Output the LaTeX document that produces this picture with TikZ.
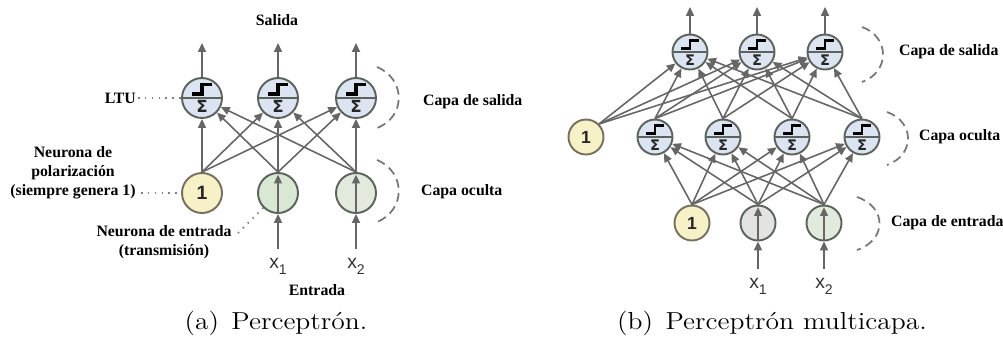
\documentclass[tikz,border=0pt]{standalone}
\usepackage{fontspec}
\newfontfamily\lblfont{Liberation Serif}
\newfontfamily\symfont{DejaVu Sans}
\newfontfamily\inpfont{Liberation Sans}
\usetikzlibrary{arrows.meta}

\definecolor{edgegray}{HTML}{666666}
\definecolor{ringgray}{HTML}{5C625C}
\definecolor{ltufill}{HTML}{DCE4F2}
\definecolor{biasfill}{HTML}{F7F1C8}
\definecolor{biasring}{HTML}{77705E}
\definecolor{greenfill}{HTML}{D9E8D2}
\definecolor{greenpale}{HTML}{E2EADD}
\definecolor{grayfill}{HTML}{E3E4E1}
\definecolor{bracegray}{HTML}{777777}

\tikzset{
  neuron/.style={circle, draw=ringgray, line width=1.1pt, inner sep=0pt},
  % threshold logic unit: step function over a summation sign
  ltu/.style 2 args={neuron, fill=ltufill, minimum size=2*#1 cm,
    path picture={
      \begin{scope}[shift={(path picture bounding box.center)}, x=#1 cm, y=#1 cm]
        \draw[ringgray, line width=0.9pt] (-1,0) -- (1,0);
        \draw[black, line width=#1*4.6pt] (-0.5,0.2) -- (0,0.2) -- (0,0.68) -- (0.5,0.68);
        \node[inner sep=0pt, text=black!85] at (0,-0.44) {\fontsize{#2}{#2}\symfont\bfseries Σ};
      \end{scope}}},
  bias/.style={neuron, draw=biasring, fill=biasfill, font=\inpfont\bfseries\fontsize{#1}{#1}\selectfont, text=black!85},
  inpA/.style={neuron, fill=#1},
  arr/.style={draw=edgegray, line width=0.9pt, -{Triangle[length=5pt,width=4.5pt]}},
  lbl/.style={font=\lblfont\bfseries\fontsize{9}{10.8}\selectfont, align=center, inner sep=1pt},
  xlbl/.style={font=\inpfont\fontsize{11}{13}\selectfont, text=black!80, inner sep=1pt},
  dots/.style={draw=gray, line width=1pt, dash pattern=on 0.9pt off 3pt},
  layerbrace/.style={draw=bracegray, line width=1pt, dash pattern=on 5pt off 3pt},
  capt/.style={font=\fontsize{14}{17}\selectfont, inner sep=0pt, xscale=1.12}
}

\begin{document}
\begin{tikzpicture}[x=0.02cm, y=-0.02cm]
\useasboundingbox (0,0) rectangle (1003,346);

% ---------------- (a) single-layer perceptron ----------------
\node[ltu={0.4}{9.5}] (ao1) at (202,98) {};
\node[ltu={0.4}{9.5}] (ao2) at (278,98) {};
\node[ltu={0.4}{9.5}] (ao3) at (356,98) {};
\node[bias=11, minimum size=0.8cm] (ab) at (202,193) {1};
\node[inpA=greenfill, minimum size=0.8cm] (ai1) at (278,193) {};
\node[inpA=greenpale, minimum size=0.8cm] (ai2) at (356,193) {};

% outputs
\coordinate (ay1) at (202,43);
\coordinate (ay2) at (278,43);
\coordinate (ay3) at (356,43);
\foreach \o in {1,2,3} \draw[arr] (ao\o.north) -- (ay\o);
\node[lbl] (salida) at (277,20) {Salida};

% full connections between the two rows
\foreach \b in {ab,ai1,ai2}
  \foreach \t in {ao1,ao2,ao3}
    \draw[arr] (\b.north) -- (\t);

% inputs
\node[xlbl] (ax1) at (278,266) {x\raisebox{-0.6ex}{\fontsize{8}{8}\selectfont 1}};
\node[xlbl] (ax2) at (356,266) {x\raisebox{-0.6ex}{\fontsize{8}{8}\selectfont 2}};
\coordinate (ax1t) at (278,249);
\coordinate (ax2t) at (356,249);
\draw[arr] (ax1t) -- (ai1.south);
\draw[arr] (ax2t) -- (ai2.south);
\draw[arr] (ai1.south) -- ([yshift=-1.5pt]ai1.north);
\draw[arr] (ai2.south) -- ([yshift=-1.5pt]ai2.north);
\node[lbl] (entrada) at (317,290) {Entrada};

% annotations
\node[lbl, anchor=east] (ltulbl) at (138,98) {LTU};
\draw[dots] (ltulbl.east) -- (ao1.west);
\node[lbl] (biaslbl) at (73,173) {Neurona de\\polarización\\(siempre genera 1)};
\coordinate (biasdot) at (141,193);
\draw[dots] (biasdot) -- (ab.west);
\node[lbl] (inlbl) at (164,242) {Neurona de entrada\\(transmisión)};
\coordinate (indot) at (238,233);
\draw[dots] (indot) -- (ai1.south west);

% layer braces
\draw[layerbrace] (377,67) .. controls (406,79) and (406,117) .. (377,128);
\draw[layerbrace] (377,160) .. controls (406,172) and (406,210) .. (377,222);
\node[lbl, anchor=west] (capaSa) at (421,102) {Capa de salida};
\node[lbl, anchor=west] (capaOa) at (419,192) {Capa oculta};

\node[capt] (capa) at (276,323) {(a)\hspace{0.45em}Perceptrón.};

% ---------------- (b) multilayer perceptron ----------------
\node[ltu={0.35}{8.3}] (bo1) at (690,52) {};
\node[ltu={0.35}{8.3}] (bo2) at (757,52) {};
\node[ltu={0.35}{8.3}] (bo3) at (825,52) {};
\node[ltu={0.35}{8.3}] (bh1) at (655,137) {};
\node[ltu={0.35}{8.3}] (bh2) at (723,137) {};
\node[ltu={0.35}{8.3}] (bh3) at (792,137) {};
\node[ltu={0.35}{8.3}] (bh4) at (862,137) {};
\node[bias=10, minimum size=0.7cm] (bb) at (586,137) {1};
\node[bias=10, minimum size=0.7cm] (bi0) at (692,223) {1};
\node[inpA=grayfill, minimum size=0.7cm] (bi1) at (758,223) {};
\node[inpA=greenpale, minimum size=0.7cm] (bi2) at (824,223) {};

% outputs
\coordinate (by1) at (690,7);
\coordinate (by2) at (757,7);
\coordinate (by3) at (825,7);
\foreach \o in {1,2,3} \draw[arr] (bo\o.north) -- (by\o);

% input layer -> hidden layer
\foreach \b in {bi0,bi1,bi2}
  \foreach \t in {bh1,bh2,bh3,bh4}
    \draw[arr] (\b.north) -- (\t);
% hidden layer (and its bias) -> output layer
\foreach \b in {bh1,bh2,bh3,bh4}
  \foreach \t in {bo1,bo2,bo3}
    \draw[arr] (\b.north) -- (\t);
\foreach \t in {bo1,bo2,bo3}
  \draw[arr] (bb.north east) -- (\t);

% inputs
\node[xlbl] (bx1) at (758,286) {x\raisebox{-0.6ex}{\fontsize{8}{8}\selectfont 1}};
\node[xlbl] (bx2) at (824,286) {x\raisebox{-0.6ex}{\fontsize{8}{8}\selectfont 2}};
\coordinate (bx1t) at (758,269);
\coordinate (bx2t) at (824,269);
\draw[arr] (bx1t) -- (bi1.south);
\draw[arr] (bx2t) -- (bi2.south);
\draw[arr] (bi1.south) -- ([yshift=-1.5pt]bi1.north);
\draw[arr] (bi2.south) -- ([yshift=-1.5pt]bi2.north);

% layer braces
\draw[layerbrace] (862,27) .. controls (890,37) and (890,72) .. (862,82);
\draw[layerbrace] (887,112) .. controls (915,122) and (915,155) .. (887,165);
\draw[layerbrace] (857,197) .. controls (887,207) and (887,240) .. (857,250);
\node[lbl, anchor=west] (capaSb) at (897,52) {Capa de salida};
\node[lbl, anchor=west] (capaOb) at (917,137) {Capa oculta};
\node[lbl, anchor=west] (capaEb) at (889,223) {Capa de entrada};

\node[capt] (capb) at (772,323) {(b)\hspace{0.45em}Perceptrón multicapa.};
\end{tikzpicture}
\end{document}
